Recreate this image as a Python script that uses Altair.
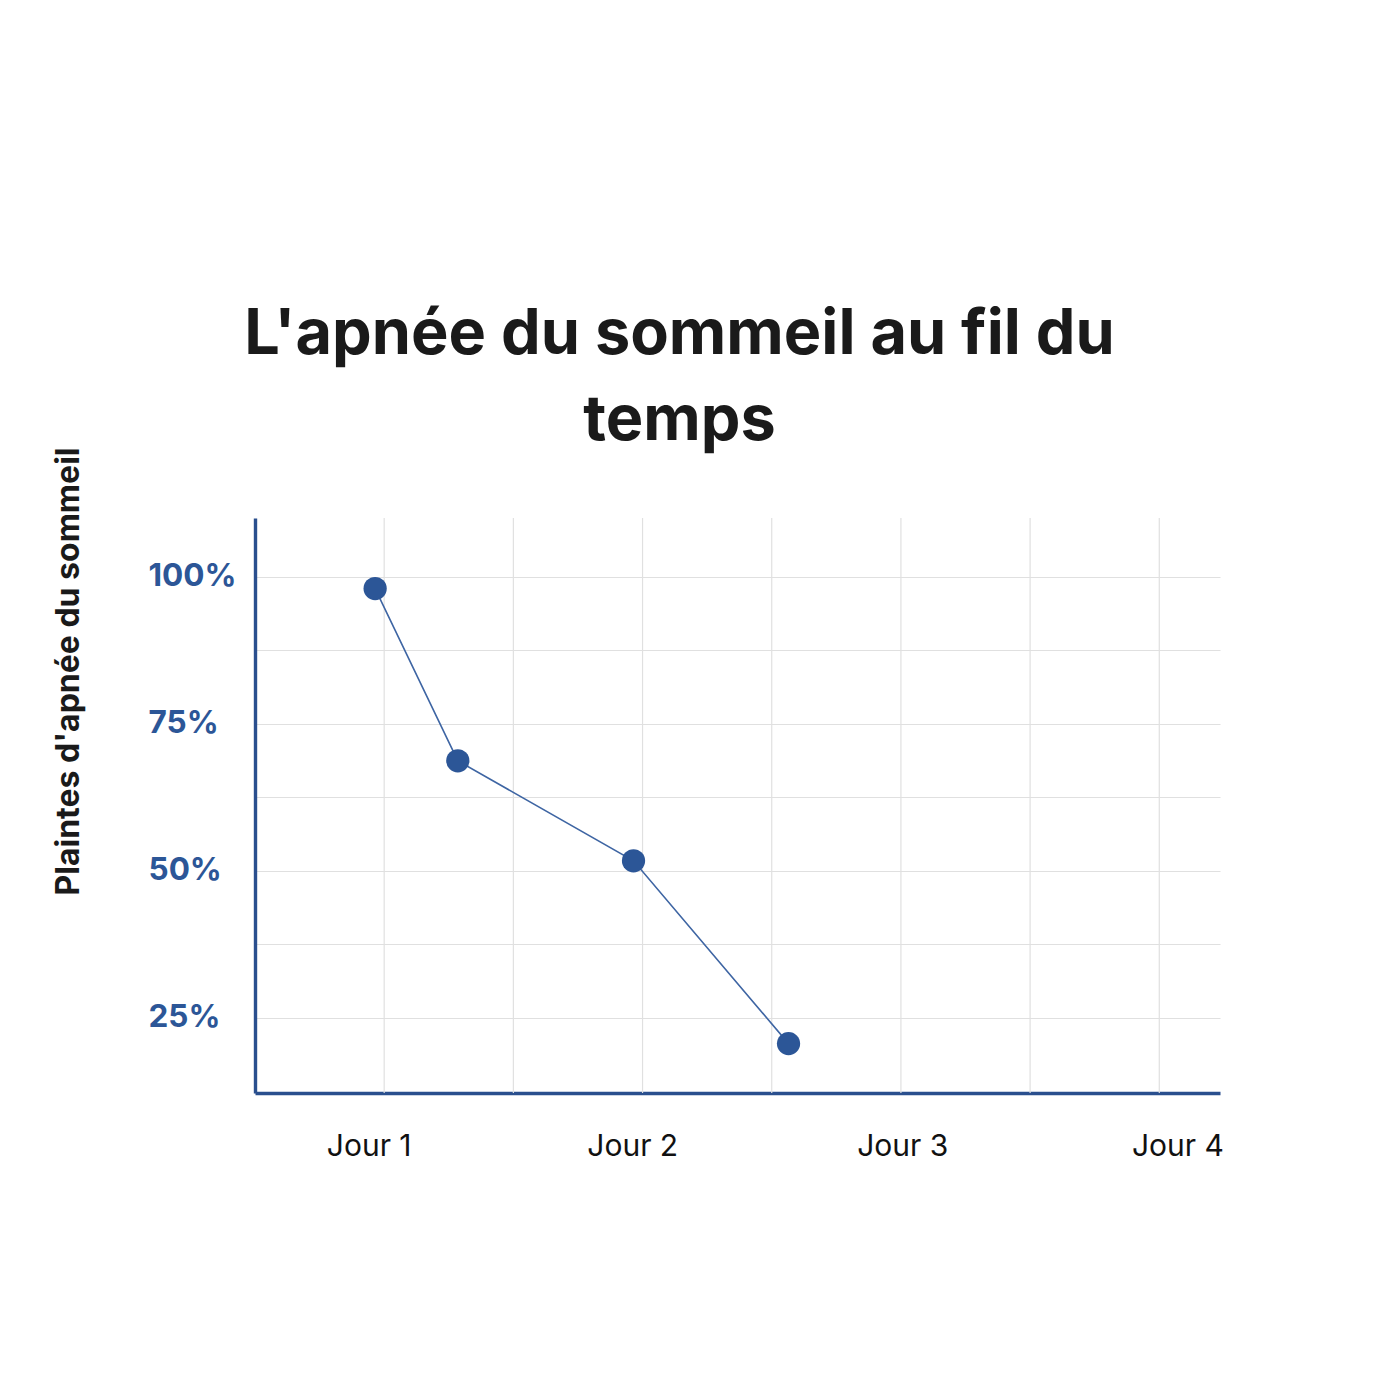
import altair as alt
import pandas as pd

# points (x in grid steps from the y axis, y in %)
temps = [0.93, 1.57, 2.93, 4.13]
plaintes = [98.0, 68.7, 51.7, 20.6]

# x axis labels and where they sit
jour_labels = ["Jour 1", "Jour 2", "Jour 3", "Jour 4"]
jour_pos = [0.88, 2.92, 5.01, 7.14]

# vertical grid lines
grid_x = [1, 2, 3, 4, 5, 6, 7]

# y ticks / grid
y_grid = [25, 37.5, 50, 62.5, 75, 87.5, 100]

BLUE = "#2c5697"
AXIS_BLUE = "#2a4f8e"

df = pd.DataFrame({"temps": temps, "plaintes": plaintes})
grid_df = pd.DataFrame({"temps": grid_x})

# labelExpr built from the label lists
label_expr = "''"
for pos, lab in reversed(list(zip(jour_pos, jour_labels))):
    label_expr = f"datum.value === {pos} ? '{lab}' : ({label_expr})"

x_scale = alt.Scale(domain=[0, 7.47], nice=False, zero=False)
x_axis = alt.Axis(
    values=jour_pos,
    labelExpr=label_expr,
    grid=False,
    ticks=False,
    domainColor=AXIS_BLUE,
    domainWidth=3.4,
    labelFont="Inter",
    labelFontSize=30,
    labelColor="#111111",
    labelPadding=38,
    labelFlush=False,
    labelOverlap=False,
    title=None,
)

y_axis = alt.Axis(
    values=y_grid,
    labelExpr="datum.value % 25 === 0 ? datum.value + '%' : ''",
    grid=True,
    gridColor="#e0e0e0",
    gridWidth=1.2,
    ticks=False,
    domainColor=AXIS_BLUE,
    domainWidth=3.4,
    labelFont="Inter",
    labelFontWeight="bold",
    labelFontSize=31.5,
    labelColor=BLUE,
    labelAlign="left",
    labelBaseline="middle",
    labelPadding=107,
    title="Plaintes d'apnée du sommeil",
    titleFont="Inter",
    titleFontWeight="bold",
    titleFontSize=32,
    titleColor="#1a1a1a",
    titleAngle=270,
    titleAlign="center",
    titleBaseline="middle",
    titleX=-187,
    titleY=153,
)

y_scale = alt.Scale(domain=[12.2, 110], nice=False, zero=False)

grid = (
    alt.Chart(grid_df)
    .mark_rule(color="#e0e0e0", strokeWidth=1.2)
    .encode(x=alt.X("temps:Q", scale=x_scale, axis=x_axis))
)

line = (
    alt.Chart(df)
    .mark_line(color="#3e65a3", strokeWidth=1.6)
    .encode(
        x=alt.X("temps:Q", scale=x_scale, axis=x_axis),
        y=alt.Y("plaintes:Q", scale=y_scale, axis=y_axis),
    )
)

points = (
    alt.Chart(df)
    .mark_circle(color=BLUE, opacity=1, size=540)
    .encode(
        x=alt.X("temps:Q", scale=x_scale, axis=x_axis),
        y=alt.Y("plaintes:Q", scale=y_scale, axis=y_axis),
    )
)

chart = (
    alt.layer(grid, line, points)
    .properties(
        width=965,
        height=575,
        autosize=alt.AutoSizeParams(type="none"),
        padding={"left": 247, "top": 510, "right": 172, "bottom": 299},
        background="#ffffff",
        title=alt.TitleParams(
            text=["L'apnée du sommeil au fil du", "temps"],
            font="Inter",
            fontWeight="bold",
            fontSize=63,
            lineHeight=86,
            color="#1a1a1a",
            anchor="middle",
            dx=-58,
            offset=-6,
        ),
    )
    .configure_view(strokeWidth=0)
)

chart.save("out.html", embed_options={"renderer": "svg", "actions": False})
